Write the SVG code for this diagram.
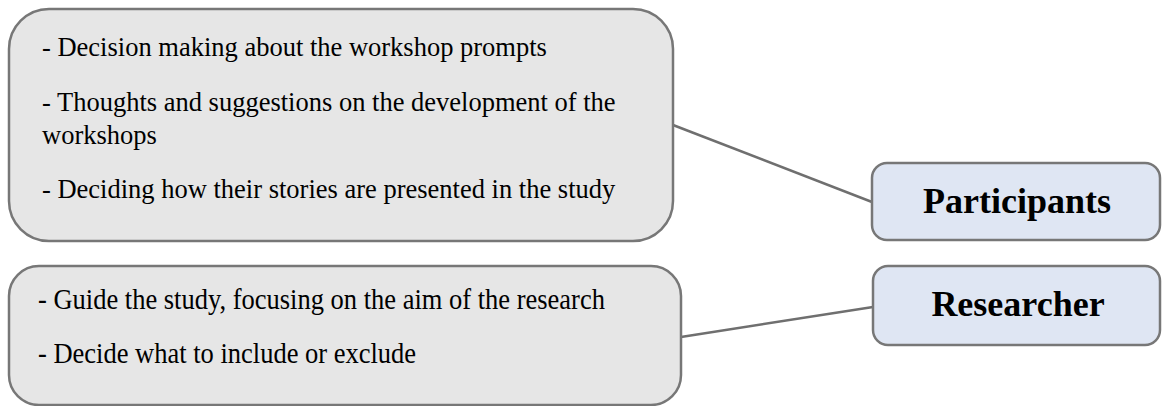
<svg xmlns="http://www.w3.org/2000/svg" width="1162" height="406" viewBox="0 0 1162 406">
<style>
.box{fill:#e6e6e6;stroke:#777777;stroke-width:2.5}
.role{fill:#dfe6f3;stroke:#777777;stroke-width:2.5}
.t{font-family:"Liberation Serif","Times New Roman",serif;font-size:26.5px;fill:#000}
.r{font-family:"Liberation Serif","Times New Roman",serif;font-size:36px;font-weight:bold;fill:#000;text-anchor:middle}
.c{stroke:#6f6f6f;stroke-width:2.5;fill:none}
</style>
<rect width="1162" height="406" fill="#ffffff"/>
<g id="connectors">
<line class="c" x1="673" y1="125" x2="872" y2="202"/>
<line class="c" x1="681" y1="337" x2="873" y2="307"/>
</g>
<g id="participants-tasks">
<rect class="box" x="9" y="9" width="664" height="232" rx="40" ry="40"/>
<text class="t" x="42" y="56">- Decision making about the workshop prompts</text>
<text class="t" x="42" y="111">- Thoughts and suggestions on the development of the</text>
<text class="t" x="42" y="144">workshops</text>
<text class="t" x="42" y="198">- Deciding how their stories are presented in the study</text>
</g>
<g id="researcher-tasks">
<rect class="box" x="9" y="266" width="672" height="139" rx="30" ry="30"/>
<g transform="scale(1,1.15)">
<text class="t" x="38" y="268.7">- Guide the study, focusing on the aim of the research</text>
<text class="t" x="38" y="315.7">- Decide what to include or exclude</text>
</g>
</g>
<g id="participants">
<rect class="role" x="872" y="163" width="288" height="77" rx="15" ry="15"/>
<text class="r" x="1017" y="213">Participants</text>
</g>
<g id="researcher">
<rect class="role" x="873" y="266" width="287" height="79" rx="15" ry="15"/>
<text class="r" x="1018" y="316">Researcher</text>
</g>
</svg>
